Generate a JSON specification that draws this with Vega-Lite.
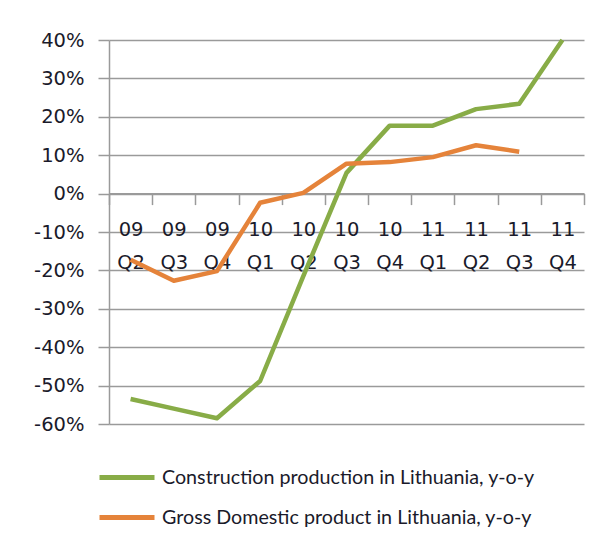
{
  "$schema": "https://vega.github.io/schema/vega-lite/v6.json",
  "width": 475,
  "height": 384,
  "autosize": "none",
  "padding": {"left": 109, "top": 40, "right": 21, "bottom": 123},
  "background": "white",
  "config": {"view": {"stroke": null}},
  "data": {
    "values": [
      {"q": "09 Q2", "series": "Construction production in Lithuania, y-o-y", "v": -0.535},
      {"q": "09 Q3", "series": "Construction production in Lithuania, y-o-y", "v": -0.56},
      {"q": "09 Q4", "series": "Construction production in Lithuania, y-o-y", "v": -0.585},
      {"q": "10 Q1", "series": "Construction production in Lithuania, y-o-y", "v": -0.488},
      {"q": "10 Q2", "series": "Construction production in Lithuania, y-o-y", "v": -0.215},
      {"q": "10 Q3", "series": "Construction production in Lithuania, y-o-y", "v": 0.054},
      {"q": "10 Q4", "series": "Construction production in Lithuania, y-o-y", "v": 0.177},
      {"q": "11 Q1", "series": "Construction production in Lithuania, y-o-y", "v": 0.177},
      {"q": "11 Q2", "series": "Construction production in Lithuania, y-o-y", "v": 0.22},
      {"q": "11 Q3", "series": "Construction production in Lithuania, y-o-y", "v": 0.234},
      {"q": "11 Q4", "series": "Construction production in Lithuania, y-o-y", "v": 0.4},
      {"q": "09 Q2", "series": "Gross Domestic product in Lithuania, y-o-y", "v": -0.172},
      {"q": "09 Q3", "series": "Gross Domestic product in Lithuania, y-o-y", "v": -0.227},
      {"q": "09 Q4", "series": "Gross Domestic product in Lithuania, y-o-y", "v": -0.202},
      {"q": "10 Q1", "series": "Gross Domestic product in Lithuania, y-o-y", "v": -0.024},
      {"q": "10 Q2", "series": "Gross Domestic product in Lithuania, y-o-y", "v": 0.002},
      {"q": "10 Q3", "series": "Gross Domestic product in Lithuania, y-o-y", "v": 0.078},
      {"q": "10 Q4", "series": "Gross Domestic product in Lithuania, y-o-y", "v": 0.082},
      {"q": "11 Q1", "series": "Gross Domestic product in Lithuania, y-o-y", "v": 0.095},
      {"q": "11 Q2", "series": "Gross Domestic product in Lithuania, y-o-y", "v": 0.126},
      {"q": "11 Q3", "series": "Gross Domestic product in Lithuania, y-o-y", "v": 0.109}
    ]
  },
  "mark": {"type": "line", "strokeWidth": 4.5, "strokeJoin": "round"},
  "encoding": {
    "x": {
      "field": "q",
      "type": "ordinal",
      "sort": null,
      "bandPosition": 0.5,
      "scale": {"type": "band", "paddingInner": 0, "paddingOuter": 0},
      "axis": {
        "title": null,
        "orient": "bottom",
        "offset": -230.4,
        "labelAngle": 0,
        "labelExpr": "split(datum.label, ' ')",
        "labelFont": "DejaVu Sans",
        "labelFontSize": 19.5,
        "labelColor": "#1a1a2a",
        "labelLineHeight": 33,
        "labelPadding": 16,
        "tickBand": "extent",
        "tickSize": 11,
        "tickColor": "#9a9a9a",
        "tickWidth": 1.5,
        "domainColor": "#9a9a9a",
        "domainWidth": 2,
        "grid": false,
        "zindex": 0
      }
    },
    "y": {
      "field": "v",
      "type": "quantitative",
      "scale": {"domain": [-0.6, 0.4], "nice": false},
      "axis": {
        "title": null,
        "format": ".0%",
        "labelExpr": "replace(datum.label, '\u2212', '-')",
        "values": [-0.6, -0.5, -0.4, -0.3, -0.2, -0.1, 0, 0.1, 0.2, 0.3, 0.4],
        "labelFont": "DejaVu Sans",
        "labelFontSize": 19.5,
        "labelColor": "#1a1a2a",
        "labelPadding": 14,
        "tickSize": 11,
        "tickColor": "#9a9a9a",
        "tickWidth": 1.5,
        "domainColor": "#9a9a9a",
        "domainWidth": 1.5,
        "gridColor": "#9a9a9a",
        "gridWidth": 1.5
      }
    },
    "color": {
      "field": "series",
      "type": "nominal",
      "scale": {
        "domain": ["Construction production in Lithuania, y-o-y", "Gross Domestic product in Lithuania, y-o-y"],
        "range": ["#88ac47", "#e5833a"]
      },
      "legend": {
        "title": null,
        "orient": "none",
        "legendX": -12,
        "legendY": 407.5,
        "padding": 0,
        "symbolType": "stroke",
        "symbolSize": 3025,
        "symbolStrokeWidth": 5,
        "labelOffset": 5,
        "labelFont": "Lato",
        "labelFontSize": 19.7,
        "labelColor": "#1a1a2a",
        "labelLimit": 0,
        "rowPadding": -13
      }
    }
  }
}
